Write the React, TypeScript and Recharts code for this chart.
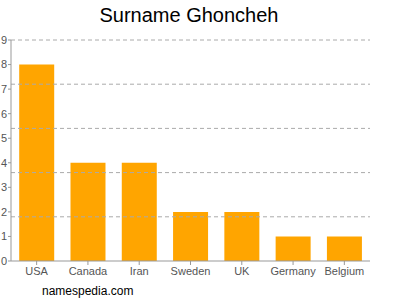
import React from "react";
import { BarChart, Bar, XAxis, YAxis, ReferenceLine } from "recharts";

const countries = ["USA", "Canada", "Iran", "Sweden", "UK", "Germany", "Belgium"];
const counts = [8, 4, 4, 2, 2, 1, 1];
const yTicks = [0, 1, 2, 3, 4, 5, 6, 7, 8, 9];
const gridValues = [1.8, 3.6, 5.4, 7.2, 9];

const data = countries.map((name, i) => ({ name, value: counts[i] }));

export default function App() {
  return (
    <div style={{ position: "fixed", left: 0, top: 0, width: 400, height: 300, background: "#fff", fontFamily: "'Liberation Sans', Arial, sans-serif" }}>
      <div style={{ position: "absolute", left: 0, width: 378, top: 4, textAlign: "center", fontSize: 20, color: "#000" }}>
        Surname Ghoncheh
      </div>
      <BarChart width={400} height={300} data={data} margin={{ top: 40, right: 30, left: 0, bottom: 19 }} barCategoryGap="16%">
        {gridValues.map((v) => (
          <ReferenceLine key={v} y={v} stroke="#aaa" strokeDasharray="4 3" />
        ))}
        <XAxis
          dataKey="name"
          stroke="#999"
          tickSize={4}
          tick={{ fill: "#555", fontSize: 11 }}
          interval={0}
          height={20}
        />
        <YAxis
          domain={[0, 9]}
          ticks={yTicks}
          interval={0}
          width={11}
          stroke="#999"
          tickSize={3}
          tickMargin={1}
          tick={{ fill: "#555", fontSize: 11 }}
        />
        <Bar dataKey="value" fill="#FFA500" isAnimationActive={false} />
      </BarChart>
      <div style={{ position: "absolute", left: 42, top: 284, fontSize: 12, color: "#000" }}>namespedia.com</div>
    </div>
  );
}
